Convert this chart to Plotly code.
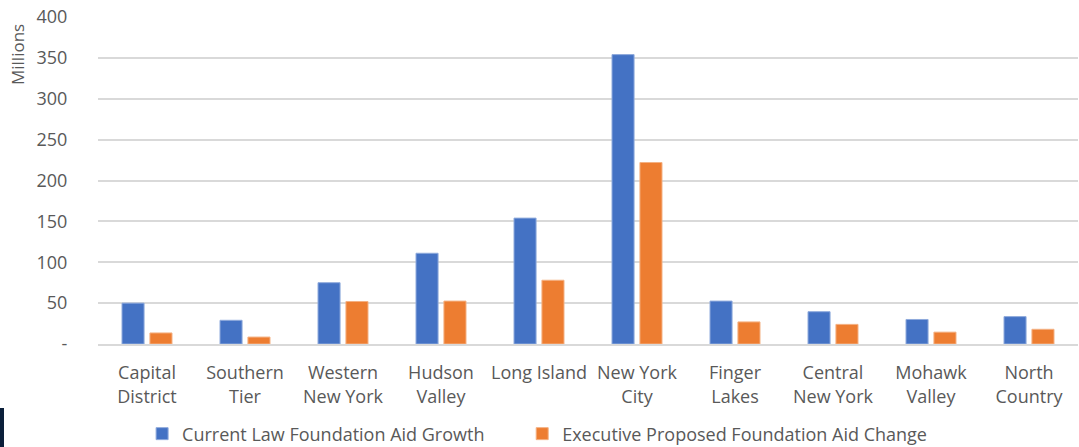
import plotly.graph_objects as go

categories = ["Capital<br>District", "Southern<br>Tier", "Western<br>New York", "Hudson<br>Valley",
              "Long Island", "New York<br>City", "Finger<br>Lakes", "Central<br>New York",
              "Mohawk<br>Valley", "North<br>Country"]
current_law = [50, 29, 75, 111, 154, 354, 52.5, 39.5, 30, 33.5]
executive = [13.5, 8.5, 52, 52.5, 78, 222, 27, 24, 14.5, 18]
y_ticks = [0, 50, 100, 150, 200, 250, 300, 350, 400]
y_tick_labels = ["-", "50", "100", "150", "200", "250", "300", "350", "400"]
series_names = ["Current Law Foundation Aid Growth", "Executive Proposed Foundation Aid Change"]

FONT = "Open Sans, sans-serif"
GRAY = "#595959"
PAD = "\u00a0" * 7

fig = go.Figure()
fig.add_trace(go.Bar(x=categories, y=current_law, name=series_names[0] + PAD,
                     marker=dict(color="#4472C4", line=dict(color="#8FAADC", width=1))))
fig.add_trace(go.Bar(x=categories, y=executive, name=series_names[1],
                     marker=dict(color="#ED7D31", line=dict(color="#F4B183", width=1))))

fig.update_layout(
    width=1079, height=447,
    margin=dict(l=98, r=1, t=17, b=103, autoexpand=False),
    paper_bgcolor="white", plot_bgcolor="white",
    barmode="group", bargap=0.43, bargroupgap=0.21,
    font=dict(family=FONT, size=18, color=GRAY),
    showlegend=True,
    legend=dict(orientation="h", x=0.045, xanchor="left", y=-0.275, yanchor="middle",
                font=dict(size=18, color=GRAY), itemwidth=30, traceorder="normal"),
    xaxis=dict(showgrid=False, showline=True, linecolor="#D9D9D9", linewidth=1.5,
               ticks="outside", ticklen=12, tickcolor="rgba(0,0,0,0)", automargin=False,
               tickfont=dict(size=18, color=GRAY)),
    yaxis=dict(range=[0, 400], tickvals=y_ticks, ticktext=y_tick_labels,
               showgrid=True, gridcolor="#D9D9D9", gridwidth=1.5, zeroline=False,
               ticks="outside", ticklen=26, tickcolor="rgba(0,0,0,0)", automargin=False,
               tickfont=dict(size=18, color=GRAY)),
    annotations=[dict(text="Millions", xref="paper", yref="paper", x=-81/980, y=1 - 38/327,
                      xanchor="center", yanchor="middle", textangle=-90, showarrow=False,
                      font=dict(size=17, color=GRAY))],
    shapes=[dict(type="rect", xref="paper", yref="paper", x0=-98/980, x1=-94/980,
                 y0=-103/327, y1=-64/327, fillcolor="#0B1F3A", line=dict(width=0))],
)

fig.write_html("out.html", config={"displayModeBar": False},
               post_script="document.body.style.margin='0';")
